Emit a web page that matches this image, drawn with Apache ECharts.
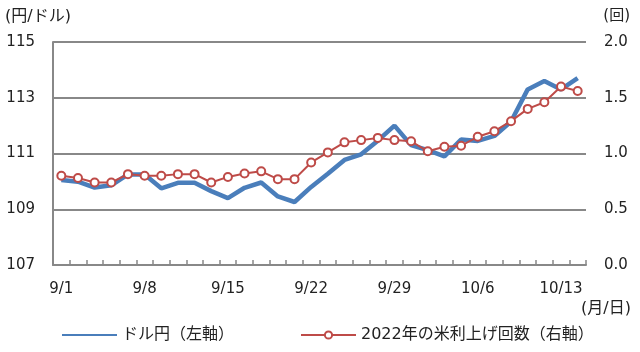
<!DOCTYPE html>
<html>
<head>
<meta charset="utf-8">
<script src="https://cdn.jsdelivr.net/npm/echarts@6/dist/echarts.min.js"></script>
<style>
  html, body { margin: 0; padding: 0; background: #fff; }
  #chart { width: 640px; height: 352px; }
</style>
</head>
<body>
<div id="chart"></div>
<script>
// business days, 9/1 - 10/14
const dates = ['9/1', '9/2', '9/5', '9/6', '9/7', '9/8', '9/9', '9/12', '9/13', '9/14',
  '9/15', '9/16', '9/19', '9/20', '9/21', '9/22', '9/23', '9/26', '9/27', '9/28',
  '9/29', '9/30', '10/3', '10/4', '10/5', '10/6', '10/7', '10/10', '10/11', '10/12',
  '10/13', '10/14'];

// ドル円 (left axis, 円/ドル)
const usdJpy = [110.05, 109.99, 109.78, 109.86, 110.25, 110.25, 109.75, 109.95, 109.95, 109.65,
  109.4, 109.77, 109.96, 109.46, 109.26, 109.8, 110.27, 110.77, 110.97, 111.46,
  112.0, 111.3, 111.12, 110.9, 111.5, 111.45, 111.63, 112.15, 113.3, 113.6,
  113.3, 113.7];

// 2022年の米利上げ回数 (right axis, 回)
const hikes = [0.8, 0.78, 0.74, 0.74, 0.815, 0.8, 0.8, 0.815, 0.815, 0.74,
  0.79, 0.82, 0.84, 0.77, 0.77, 0.92, 1.01, 1.1, 1.12, 1.14,
  1.12, 1.11, 1.02, 1.06, 1.07, 1.15, 1.2, 1.29, 1.4, 1.46,
  1.6, 1.56];

const leftTicks = { min: 107, max: 115, interval: 2 };
const rightTicks = { min: 0, max: 2, interval: 0.5 };

const font = 'DejaVu Sans, "Noto Sans CJK JP", sans-serif';
const gridColor = '#888888';
const textColor = '#222';
const blue = '#4a7ebb';
const red = '#be4b48';

const chart = echarts.init(document.getElementById('chart'));
chart.setOption({
  animation: false,
  textStyle: { fontFamily: font },
  grid: { left: 53, right: 54, top: 42, bottom: 87 },
  legend: {
    left: 56,
    top: 322,
    itemWidth: 55,
    itemHeight: 9,
    itemGap: 66,
    textStyle: { fontFamily: font, fontSize: 16, color: textColor },
    data: [
      { name: 'ドル円（左軸）', itemStyle: { opacity: 0 } },
      { name: '2022年の米利上げ回数（右軸）' }
    ]
  },
  graphic: [
    { type: 'text', left: 5, top: 9, style: { text: '(円/ドル)', font: '16px ' + font, fill: textColor } },
    { type: 'text', right: 10, top: 9, style: { text: '(回)', font: '15px ' + font, fill: textColor } },
    { type: 'text', right: 9, top: 301, style: { text: '(月/日)', font: '16px ' + font, fill: textColor } }
  ],
  xAxis: {
    type: 'category',
    data: dates,
    boundaryGap: true,
    axisLine: { lineStyle: { color: gridColor, width: 2 } },
    axisTick: { show: true, inside: true, length: 5, interval: 0, lineStyle: { color: gridColor, width: 1.5 } },
    axisLabel: { interval: 4, margin: 17, fontSize: 15, color: textColor, fontFamily: font }
  },
  yAxis: [
    {
      type: 'value',
      min: leftTicks.min,
      max: leftTicks.max,
      interval: leftTicks.interval,
      axisLine: { show: true, lineStyle: { color: gridColor, width: 2 } },
      axisTick: { show: false },
      axisLabel: { margin: 18, fontSize: 15, color: textColor, fontFamily: font },
      splitLine: { lineStyle: { color: gridColor, width: 2 } }
    },
    {
      type: 'value',
      min: rightTicks.min,
      max: rightTicks.max,
      interval: rightTicks.interval,
      axisLine: { show: false },
      axisTick: { show: false },
      axisLabel: { margin: 18, fontSize: 15, color: textColor, fontFamily: font, formatter: v => v.toFixed(1) },
      splitLine: { show: false }
    }
  ],
  series: [
    {
      name: 'ドル円（左軸）',
      type: 'line',
      yAxisIndex: 0,
      data: usdJpy,
      symbol: 'none',
      lineStyle: { color: blue, width: 4.5 },
      itemStyle: { color: blue },
      z: 2
    },
    {
      name: '2022年の米利上げ回数（右軸）',
      type: 'line',
      yAxisIndex: 1,
      data: hikes,
      symbol: 'circle',
      symbolSize: 8,
      lineStyle: { color: red, width: 2 },
      itemStyle: { color: '#fff', borderColor: red, borderWidth: 2 },
      z: 3
    }
  ]
});
</script>
</body>
</html>
